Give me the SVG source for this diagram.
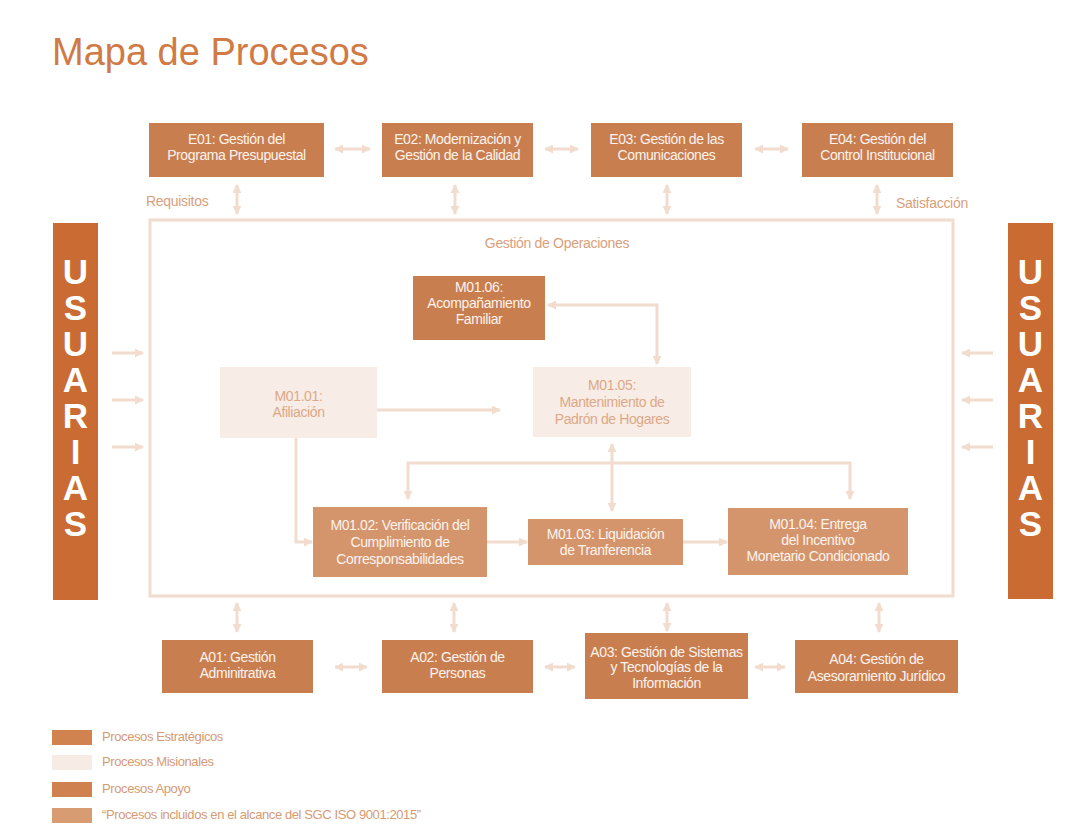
<svg xmlns="http://www.w3.org/2000/svg" width="1092" height="838" viewBox="0 0 1092 838">
<defs>
<marker id="ah" viewBox="0 0 10 10" refX="9" refY="5" markerWidth="9" markerHeight="9" markerUnits="userSpaceOnUse" orient="auto-start-reverse">
<path d="M0,0 L10,5 L0,10 z" fill="#F2DCCD"/>
</marker>
<style>
text{font-family:"Liberation Sans",Arial,sans-serif}
.bx{fill:#C97E50}
.us{fill:#C96B32}
.md{fill:#D4956C}
.pl{fill:#F8EDE6}
.wt{fill:#FDF3EC;font-size:14px;text-anchor:middle;letter-spacing:-0.4px}
.pt{fill:#DDA887;font-size:14px;text-anchor:middle;letter-spacing:-0.4px}
.lb{fill:#D9A07C;font-size:14px;letter-spacing:-0.3px}
.lg{fill:#D69A75;font-size:13px;letter-spacing:-0.4px}
.ul{fill:#FFFFFF;font-size:35px;font-weight:bold;text-anchor:middle}
.cn{fill:none;stroke:#F2DCCD;stroke-width:3}
.d{marker-start:url(#ah);marker-end:url(#ah)}
.e{marker-end:url(#ah)}
</style>
</defs>
<rect width="1092" height="838" fill="#FFFFFF"/>
<text x="52" y="65" font-size="38" fill="#D07A45" style="font-family:'Liberation Sans',Arial,sans-serif">Mapa de Procesos</text>

<g id="connectors">
<rect x="150" y="220" width="803" height="376" class="cn" stroke-width="4"/>
<line x1="335" y1="149" x2="370" y2="149" class="cn d"/>
<line x1="545" y1="149" x2="578" y2="149" class="cn d"/>
<line x1="755" y1="149" x2="788" y2="149" class="cn d"/>
<line x1="237" y1="185" x2="237" y2="214" class="cn d"/>
<line x1="455" y1="185" x2="455" y2="214" class="cn d"/>
<line x1="667" y1="185" x2="667" y2="214" class="cn d"/>
<line x1="877" y1="185" x2="877" y2="214" class="cn d"/>
<line x1="237" y1="603" x2="237" y2="632" class="cn d"/>
<line x1="454" y1="603" x2="454" y2="632" class="cn d"/>
<line x1="667" y1="603" x2="667" y2="631" class="cn d"/>
<line x1="879" y1="603" x2="879" y2="632" class="cn d"/>
<line x1="335" y1="667" x2="367" y2="667" class="cn d"/>
<line x1="545" y1="667" x2="575" y2="667" class="cn d"/>
<line x1="755" y1="667" x2="785" y2="667" class="cn d"/>
<line x1="112" y1="353" x2="143" y2="353" class="cn e"/>
<line x1="112" y1="400" x2="143" y2="400" class="cn e"/>
<line x1="112" y1="447" x2="143" y2="447" class="cn e"/>
<line x1="993" y1="353" x2="962" y2="353" class="cn e"/>
<line x1="993" y1="400" x2="962" y2="400" class="cn e"/>
<line x1="993" y1="447" x2="962" y2="447" class="cn e"/>
<polyline points="657,364 657,305 548,305" class="cn d"/>
<line x1="377" y1="410" x2="500" y2="410" class="cn e"/>
<polyline points="296,438 296,542 312,542" class="cn e"/>
<line x1="487" y1="542" x2="527" y2="542" class="cn e"/>
<line x1="683" y1="542" x2="727" y2="542" class="cn e"/>
<polyline points="408,499 408,463 850,463 850,499" class="cn d"/>
<line x1="612" y1="444" x2="612" y2="511" class="cn d"/>
</g>

<g id="usuarias-left">
<rect x="53" y="223" width="45" height="377" class="us"/>
<text class="ul" x="75.5" y="284">U</text>
<text class="ul" x="75.5" y="320">S</text>
<text class="ul" x="75.5" y="356">U</text>
<text class="ul" x="75.5" y="392">A</text>
<text class="ul" x="75.5" y="428">R</text>
<text class="ul" x="75.5" y="464">I</text>
<text class="ul" x="75.5" y="500">A</text>
<text class="ul" x="75.5" y="536">S</text>
</g>
<g id="usuarias-right">
<rect x="1008" y="223" width="45" height="376" class="us"/>
<text class="ul" x="1030.5" y="284">U</text>
<text class="ul" x="1030.5" y="320">S</text>
<text class="ul" x="1030.5" y="356">U</text>
<text class="ul" x="1030.5" y="392">A</text>
<text class="ul" x="1030.5" y="428">R</text>
<text class="ul" x="1030.5" y="464">I</text>
<text class="ul" x="1030.5" y="500">A</text>
<text class="ul" x="1030.5" y="536">S</text>
</g>

<g id="E01"><rect x="149" y="123" width="175" height="54" class="bx"/>
<text class="wt" x="236.5" y="144">E01: Gestión del</text><text class="wt" x="236.5" y="160">Programa Presupuestal</text></g>
<g id="E02"><rect x="382" y="123" width="151" height="54" class="bx"/>
<text class="wt" x="457.5" y="144">E02: Modernización y</text><text class="wt" x="457.5" y="160">Gestión de la Calidad</text></g>
<g id="E03"><rect x="591" y="123" width="151" height="54" class="bx"/>
<text class="wt" x="666.5" y="144">E03: Gestión de las</text><text class="wt" x="666.5" y="160">Comunicaciones</text></g>
<g id="E04"><rect x="802" y="123" width="151" height="54" class="bx"/>
<text class="wt" x="877.5" y="144">E04: Gestión del</text><text class="wt" x="877.5" y="160">Control Institucional</text></g>

<text class="lb" x="146" y="206">Requisitos</text>
<text class="lb" x="896" y="208">Satisfacción</text>
<text class="lb" x="557" y="248" text-anchor="middle">Gestión de Operaciones</text>

<g id="M0106"><rect x="413" y="276" width="132" height="64" class="bx"/>
<text class="wt" x="479" y="292">M01.06:</text><text class="wt" x="479" y="308">Acompañamiento</text><text class="wt" x="479" y="324">Familiar</text></g>
<g id="M0101"><rect x="220" y="367" width="157" height="71" class="pl"/>
<text class="pt" x="298.5" y="401">M01.01:</text><text class="pt" x="298.5" y="417">Afiliación</text></g>
<g id="M0105"><rect x="533" y="367" width="158" height="70" class="pl"/>
<text class="pt" x="612" y="390">M01.05:</text><text class="pt" x="612" y="407">Mantenimiento de</text><text class="pt" x="612" y="424">Padrón de Hogares</text></g>
<g id="M0102"><rect x="313" y="507" width="174" height="70" class="md"/>
<text class="wt" x="400" y="530">M01.02: Verificación del</text><text class="wt" x="400" y="547">Cumplimiento de</text><text class="wt" x="400" y="564">Corresponsabilidades</text></g>
<g id="M0103"><rect x="528" y="519" width="155" height="46" class="md"/>
<text class="wt" x="605.5" y="539">M01.03: Liquidación</text><text class="wt" x="605.5" y="555">de Tranferencia</text></g>
<g id="M0104"><rect x="728" y="508" width="180" height="67" class="md"/>
<text class="wt" x="818" y="529">M01.04: Entrega</text><text class="wt" x="818" y="545">del Incentivo</text><text class="wt" x="818" y="561">Monetario Condicionado</text></g>

<g id="A01"><rect x="162" y="640" width="151" height="53" class="bx"/>
<text class="wt" x="237.5" y="662">A01: Gestión</text><text class="wt" x="237.5" y="678">Adminitrativa</text></g>
<g id="A02"><rect x="382" y="640" width="151" height="53" class="bx"/>
<text class="wt" x="457.5" y="662">A02: Gestión de</text><text class="wt" x="457.5" y="678">Personas</text></g>
<g id="A03"><rect x="585" y="633" width="163" height="66" class="bx"/>
<text class="wt" x="666.5" y="657">A03: Gestión de Sistemas</text><text class="wt" x="666.5" y="672">y Tecnologías de la</text><text class="wt" x="666.5" y="688">Información</text></g>
<g id="A04"><rect x="795" y="640" width="163" height="53" class="bx"/>
<text class="wt" x="876.5" y="664">A04: Gestión de</text><text class="wt" x="876.5" y="681">Asesoramiento Jurídico</text></g>

<g id="legend">
<rect x="52" y="730" width="40" height="15" fill="#D0824F"/>
<rect x="52" y="755" width="40" height="15" fill="#F7ECE5"/>
<rect x="52" y="782" width="40" height="15" fill="#CF8250"/>
<rect x="52" y="808" width="40" height="15" fill="#D89C72"/>
<text class="lg" x="102" y="741">Procesos Estratégicos</text>
<text class="lg" x="102" y="766">Procesos Misionales</text>
<text class="lg" x="102" y="793">Procesos Apoyo</text>
<text class="lg" x="102" y="819">“Procesos incluidos en el alcance del SGC ISO 9001:2015”</text>
</g>
</svg>
